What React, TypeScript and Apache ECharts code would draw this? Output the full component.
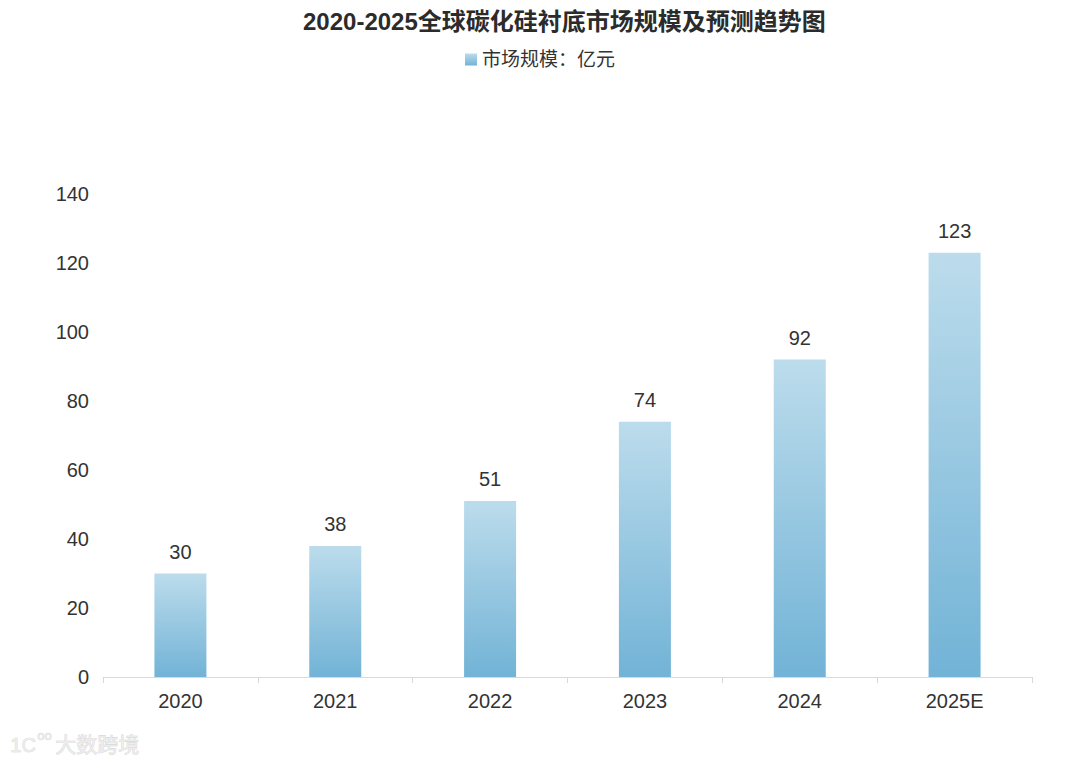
import React, { useEffect, useRef } from "react";
import * as echarts from "echarts";

const categories = ["2020", "2021", "2022", "2023", "2024", "2025E"];
const marketSize = [30, 38, 51, 74, 92, 123];
const titleText = "2020-2025全球碳化硅衬底市场规模及预测趋势图";
const seriesName = "市场规模：亿元";
const watermarkText = "大数跨境";

export default function App() {
  const ref = useRef<HTMLDivElement>(null);
  useEffect(() => {
    if (!ref.current) return;
    const chart = echarts.init(ref.current, null, { renderer: "svg" });
    const font = "'Liberation Sans', 'Noto Sans CJK SC', sans-serif";
    chart.setOption({
      animation: false,
      backgroundColor: "#ffffff",
      title: {
        text: titleText,
        left: 298,
        top: 4,
        textStyle: { fontSize: 24, fontWeight: "bold", color: "#2b2b2b", fontFamily: font },
      },
      legend: {
        top: 45,
        left: "center",
        itemWidth: 12,
        itemHeight: 12,
        itemGap: 10,
        icon: "rect",
        textStyle: { fontSize: 19, color: "#333", fontFamily: font },
        data: [seriesName],
      },
      grid: { left: 103, right: 48, top: 194, bottom: 90, containLabel: false },
      xAxis: {
        type: "category",
        data: categories,
        axisLine: { lineStyle: { color: "#d9d9d9" } },
        axisTick: { show: true, lineStyle: { color: "#d9d9d9" }, length: 6 },
        axisLabel: { fontSize: 20, color: "#333", margin: 14, fontFamily: font },
      },
      yAxis: {
        type: "value",
        min: 0,
        max: 140,
        interval: 20,
        axisLine: { show: false },
        axisTick: { show: false },
        splitLine: { show: false },
        axisLabel: { fontSize: 20, color: "#333", margin: 14, fontFamily: font },
      },
      series: [
        {
          name: seriesName,
          type: "bar",
          data: marketSize,
          barWidth: 52,
          itemStyle: {
            color: new echarts.graphic.LinearGradient(0, 0, 0, 1, [
              { offset: 0, color: "#bcdcec" },
              { offset: 1, color: "#72b3d6" },
            ]),
          },
          label: {
            show: true,
            position: "top",
            distance: 12,
            fontSize: 20,
            color: "#333",
            fontFamily: font,
          },
        },
      ],
      graphic: [
        {
          type: "text",
          left: 10,
          top: 735,
          style: {
            text: "1C",
            fontSize: 20,
            fill: "#ececec",
            stroke: "#d0d0d0",
            lineWidth: 0.6,
            fontFamily: font,
          },
        },
        {
          type: "text",
          left: 37,
          top: 729,
          style: {
            text: "oo",
            fontSize: 13,
            fill: "#ececec",
            stroke: "#d0d0d0",
            lineWidth: 0.6,
            fontFamily: font,
          },
        },
        {
          type: "text",
          left: 55,
          top: 734,
          style: {
            text: watermarkText,
            fontSize: 21,
            fill: "#ececec",
            stroke: "#cfcfcf",
            lineWidth: 0.6,
            fontFamily: font,
          },
        },
      ],
    });
    return () => chart.dispose();
  }, []);
  return (
    <div
      ref={ref}
      style={{ position: "fixed", left: 0, top: 0, width: 1080, height: 767 }}
    />
  );
}
